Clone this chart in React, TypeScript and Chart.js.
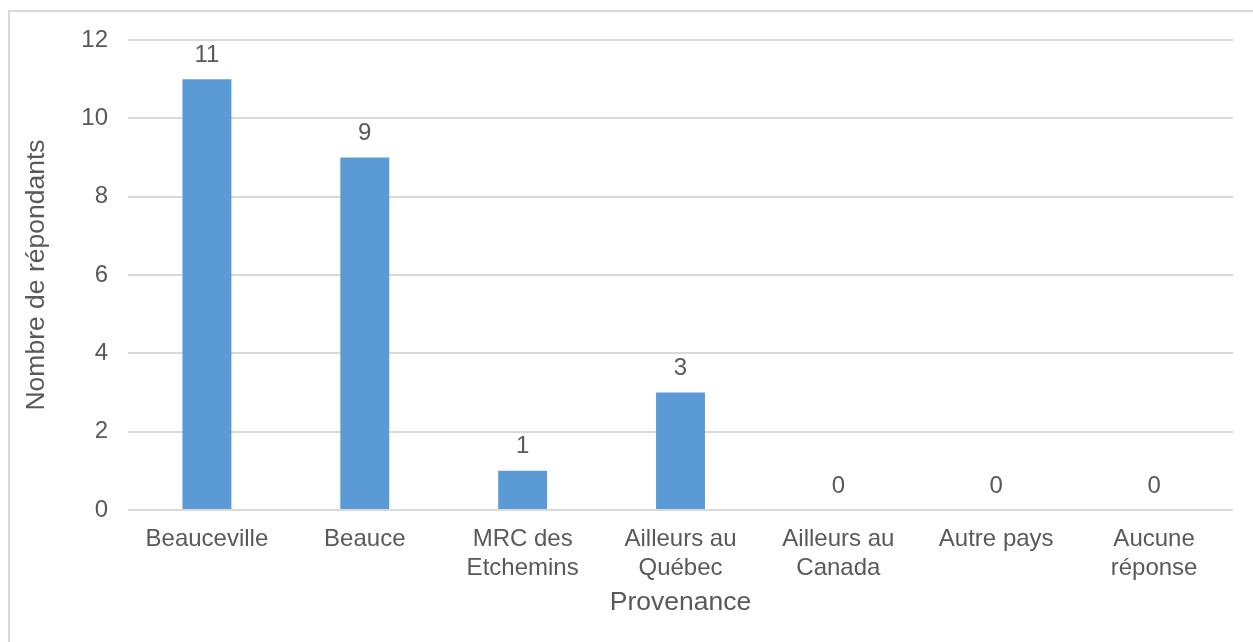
import React, { useEffect, useRef } from "react";
import { Chart, registerables } from "chart.js";

Chart.register(...registerables);

const categories: (string | string[])[] = [
  "Beauceville",
  "Beauce",
  ["MRC des", "Etchemins"],
  ["Ailleurs au", "Québec"],
  ["Ailleurs au", "Canada"],
  "Autre pays",
  ["Aucune", "réponse"],
];
const values: number[] = [11, 9, 1, 3, 0, 0, 0];
const yTicks: number[] = [0, 2, 4, 6, 8, 10, 12];
const xTitle = "Provenance";
const yTitle = "Nombre de répondants";

const FONT = "'Liberation Sans', Arial, sans-serif";
const TEXT = "#595959";
const GRID = "#d9d9d9";
const BAR = "#5B9BD5";

const dataLabels = {
  id: "dataLabels",
  afterDatasetsDraw(chart: any) {
    const ctx = chart.ctx;
    const meta = chart.getDatasetMeta(0);
    ctx.save();
    ctx.font = `24px ${FONT}`;
    ctx.fillStyle = TEXT;
    ctx.textAlign = "center";
    ctx.textBaseline = "middle";
    meta.data.forEach((el: any, i: number) => {
      const v = chart.data.datasets[0].data[i];
      ctx.fillText(String(v), el.x, el.y - 24);
    });
    ctx.restore();
  },
};

export default function App() {
  const ref = useRef<HTMLCanvasElement | null>(null);
  useEffect(() => {
    if (!ref.current) return;
    const chart = new Chart(ref.current, {
      type: "bar",
      data: {
        labels: categories,
        datasets: [
          {
            data: values,
            backgroundColor: BAR,
            borderWidth: 0,
            barPercentage: 0.31,
            categoryPercentage: 1,
          },
        ],
      },
      options: {
        animation: false,
        responsive: true,
        maintainAspectRatio: false,
        layout: { padding: { top: 28, right: 20, left: 0, bottom: 0 } },
        plugins: {
          legend: { display: false },
          tooltip: { enabled: false },
        },
        scales: {
          x: {
            grid: { display: false, drawTicks: false },
            border: { display: false },
            ticks: {
              color: TEXT,
              font: { family: FONT, size: 24, lineHeight: 1.2 },
              padding: 15,
              maxRotation: 0,
              autoSkip: false,
            },
            title: {
              display: true,
              text: xTitle,
              color: TEXT,
              font: { family: FONT, size: 26.5, lineHeight: 1.2 },
              padding: { top: 0, bottom: 23 },
            },
            afterFit: (s: any) => {
              s.height = 132;
              s.paddingLeft = 0;
              s.paddingRight = 0;
            },
          },
          y: {
            min: 0,
            max: 12,
            afterBuildTicks: (s: any) => {
              s.ticks = yTicks.map((v) => ({ value: v }));
            },
            grid: { color: GRID, lineWidth: 2, drawTicks: false },
            border: { display: false },
            ticks: {
              color: TEXT,
              font: { family: FONT, size: 24 },
              padding: 20,
            },
            title: {
              display: true,
              text: yTitle,
              color: TEXT,
              font: { family: FONT, size: 26.5, lineHeight: 1.2 },
              padding: { top: 11, bottom: 0 },
            },
            afterFit: (s: any) => {
              s.width = 118;
              s.paddingTop = 0;
              s.paddingBottom = 0;
            },
          },
        },
      },
      plugins: [dataLabels],
    });
    return () => chart.destroy();
  }, []);

  return (
    <div
      style={{
        position: "fixed",
        left: 8,
        top: 10,
        width: 1245,
        height: 632,
        borderLeft: `2px solid ${GRID}`,
        borderTop: `2px solid ${GRID}`,
        boxSizing: "border-box",
        background: "#fff",
      }}
    >
      <div style={{ position: "relative", width: 1243, height: 630 }}>
        <canvas ref={ref} />
      </div>
    </div>
  );
}
